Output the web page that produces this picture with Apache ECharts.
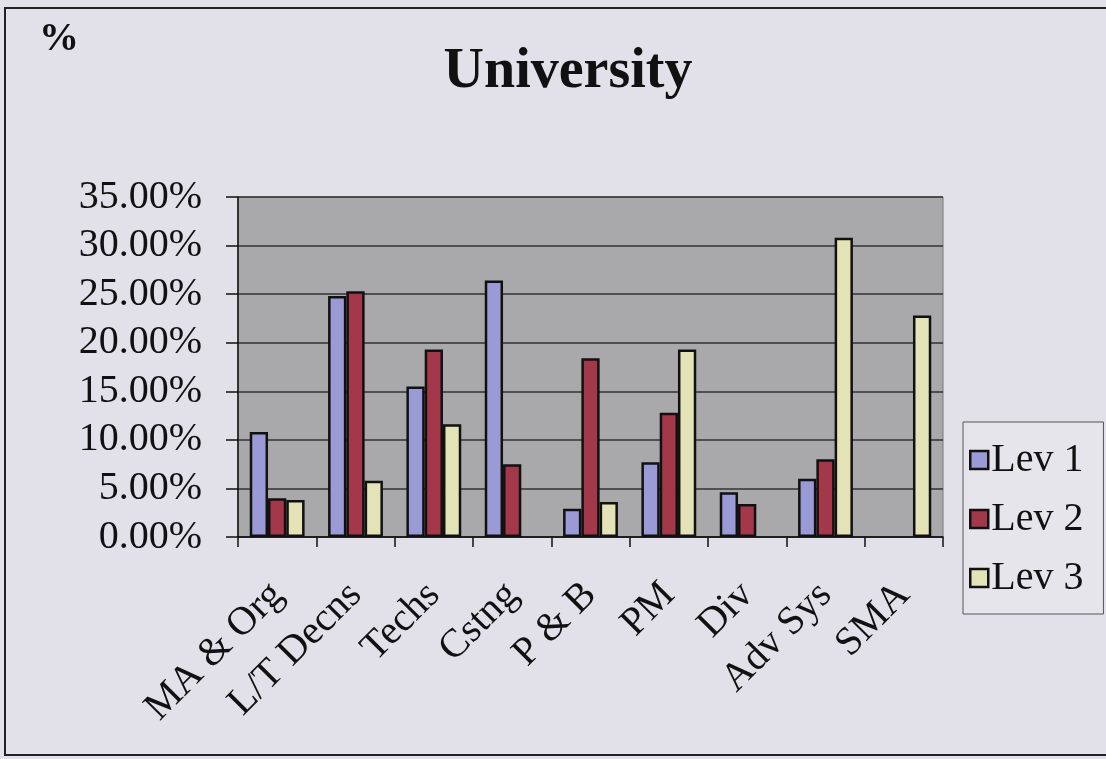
<!DOCTYPE html>
<html>
<head>
<meta charset="utf-8">
<script src="https://cdn.jsdelivr.net/npm/echarts@6/dist/echarts.min.js"></script>
<style>
html,body{margin:0;padding:0;background:#e2e1ea;}
#c{width:1106px;height:759px;}
</style>
</head>
<body>
<div id="c"></div>
<script>
const categories = ['MA & Org','L/T Decns','Techs','Cstng','P & B','PM','Div','Adv Sys','SMA'];
const lev1 = [0.108, 0.248, 0.155, 0.264, 0.029, 0.077, 0.046, 0.060, null];
const lev2 = [0.040, 0.253, 0.193, 0.075, 0.184, 0.128, 0.034, 0.080, null];
const lev3 = [0.038, 0.058, 0.116, null, 0.036, 0.193, null, 0.308, 0.228];
const seriesNames = ['Lev 1','Lev 2','Lev 3'];
const yTicks = [0, 0.05, 0.10, 0.15, 0.20, 0.25, 0.30, 0.35];

const serif = '"Liberation Serif", "DejaVu Serif", serif';
const colors = ['#9a9ad6', '#a3384a', '#e4e3b8'];

const chart = echarts.init(document.getElementById('c'));
const mk = (name, data, i) => ({
  name, type: 'bar', data,
  barGap: '0%', barCategoryGap: '30%',
  itemStyle: { color: colors[i], borderColor: '#111', borderWidth: 2.5 }
});
chart.setOption({
  backgroundColor: '#e2e1ea',
  animation: false,
  title: {
    text: 'University', left: 563, top: 40, textAlign: 'center',
    textStyle: { fontFamily: serif, fontWeight: 'bold', fontSize: 56, color: '#111' }
  },
  graphic: [
    { type: 'rect', shape: { x: 5, y: 8, width: 1120, height: 747 },
      style: { fill: 'none', stroke: '#222', lineWidth: 2 } },
    { type: 'text', left: 39, top: 20,
      style: { text: '%', font: 'bold 40px ' + serif, fill: '#111' } }
  ],
  legend: {
    orient: 'vertical', left: 963, top: 422,
    data: seriesNames, icon: 'rect',
    itemWidth: 18, itemHeight: 18, itemGap: 19,
    padding: [18, 20, 16, 6],
    borderColor: '#555', borderWidth: 1, backgroundColor: '#e6e5ec',
    itemStyle: { borderColor: '#111', borderWidth: 2.5 },
    textStyle: { fontFamily: serif, fontSize: 40, color: '#111', padding: [0, 0, 0, -2] }
  },
  grid: {
    left: 238, right: 163, top: 197, bottom: 222,
    show: true, backgroundColor: '#a9a9ac', borderColor: '#777', borderWidth: 1
  },
  xAxis: {
    type: 'category', data: categories,
    axisLine: { lineStyle: { color: '#111', width: 1.5 } },
    axisTick: { show: true, length: 10, lineStyle: { color: '#111', width: 1.5 } },
    axisLabel: { rotate: 45, margin: 52, fontFamily: serif, fontSize: 40, color: '#111', interval: 0 }
  },
  yAxis: {
    type: 'value', min: yTicks[0], max: yTicks[yTicks.length - 1], interval: 0.05,
    axisLine: { show: true, lineStyle: { color: '#111', width: 1.5 } },
    axisTick: { show: true, length: 12, lineStyle: { color: '#111', width: 1.5 } },
    splitLine: { lineStyle: { color: '#333', width: 1.5 } },
    axisLabel: {
      margin: 36, fontFamily: serif, fontSize: 40, color: '#111',
      formatter: v => (v * 100).toFixed(2) + '%'
    }
  },
  series: [mk(seriesNames[0], lev1, 0), mk(seriesNames[1], lev2, 1), mk(seriesNames[2], lev3, 2)]
});
</script>
</body>
</html>
